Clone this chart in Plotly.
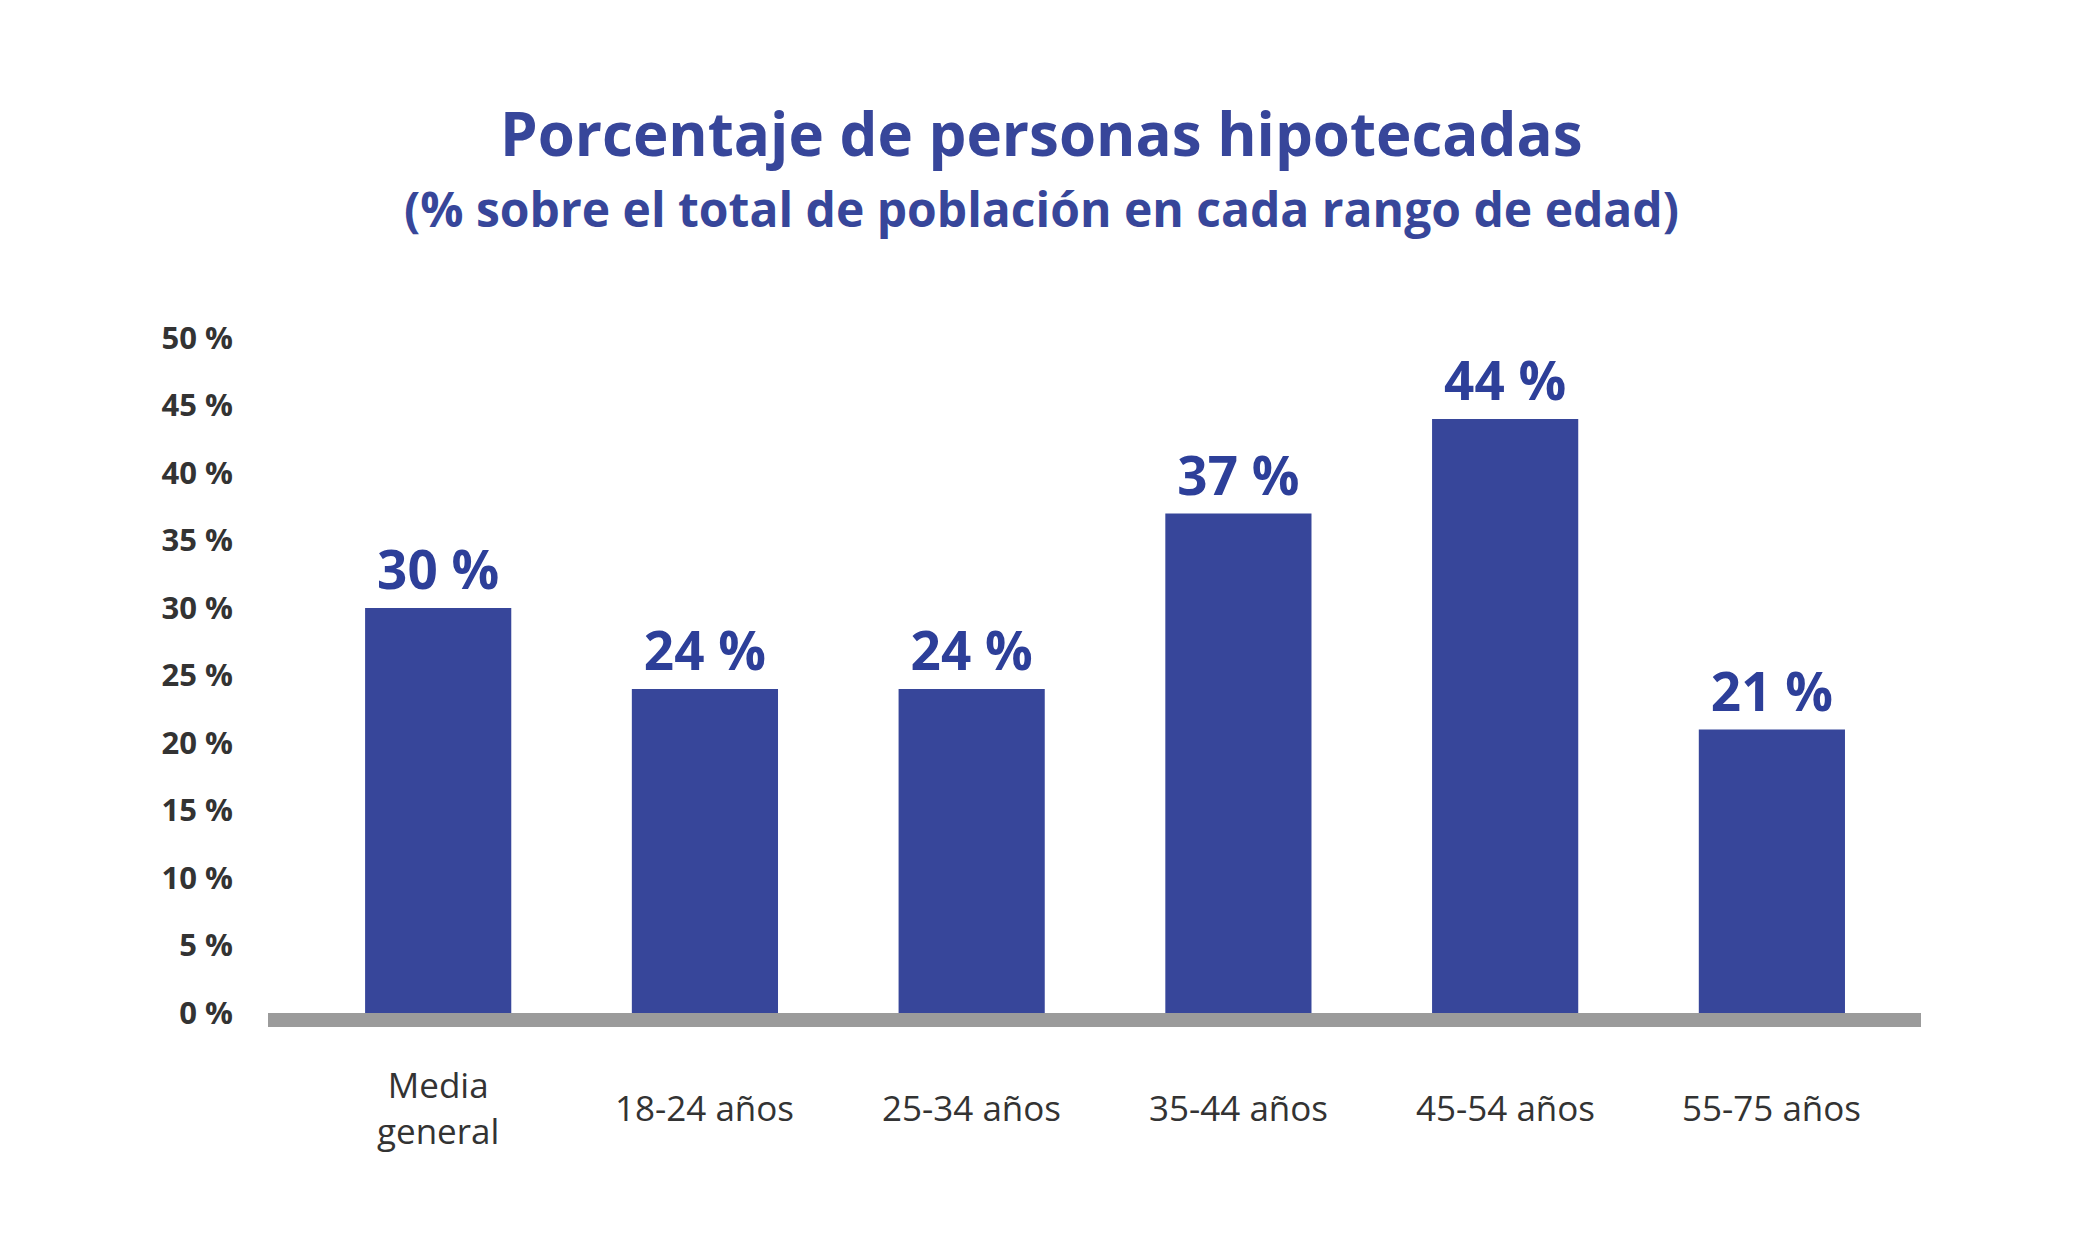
import plotly.graph_objects as go

categories = ["Media general", "18-24 años", "25-34 años", "35-44 años", "45-54 años", "55-75 años"]
values = [30, 24, 24, 37, 44, 21]
y_ticks = [0, 5, 10, 15, 20, 25, 30, 35, 40, 45, 50]
y_ticklabels = [f"{v} %" for v in y_ticks]
title = "Porcentaje de personas hipotecadas"
subtitle = "(% sobre el total de población en cada rango de edad)"
cat_labels = ["Media<br>general", "18-24 años", "25-34 años", "35-44 años", "45-54 años", "55-75 años"]

BAR = "#37469a"
LBL = "#2d3f99"
FONT = "Open Sans"

fig = go.Figure()
fig.add_trace(go.Bar(
    x=categories, y=values,
    marker=dict(color=BAR, line=dict(width=0)),
    text=[f"{v} %" for v in values],
    textposition="outside",
    textfont=dict(family=FONT, size=53, color=LBL, weight=700),
    cliponaxis=False,
    hoverinfo="skip",
))

fig.add_shape(type="rect", xref="paper", yref="y", x0=0, x1=1, y0=-1.04, y1=0,
              fillcolor="#9b9b9b", line=dict(width=0), layer="above")

for c, lab in zip(categories, cat_labels):
    fig.add_annotation(x=c, xref="x", y=-0.093, yref="paper", text=lab, showarrow=False,
                       yanchor="middle", xanchor="center",
                       font=dict(family=FONT, size=35, color="#333333"))

fig.add_annotation(x=0.468, xref="paper", y=1.244, yref="paper", text=title, showarrow=False,
                   yanchor="middle", xanchor="center",
                   font=dict(family=FONT, size=60, color=BAR, weight=700))
fig.add_annotation(x=0.468, xref="paper", y=1.14, yref="paper", text=subtitle, showarrow=False,
                   yanchor="middle", xanchor="center",
                   font=dict(family=FONT, size=48, color=BAR, weight=700))

fig.update_layout(
    width=2083, height=1250,
    margin=dict(l=260, r=170, t=303, b=218),
    paper_bgcolor="white", plot_bgcolor="white",
    showlegend=False,
    bargap=0.452,
    font=dict(family=FONT),
    xaxis=dict(range=[-0.638, 5.559], showticklabels=False, showgrid=False, zeroline=False,
               showline=False, ticks=""),
    yaxis=dict(range=[-2, 52], tickvals=y_ticks, ticktext=y_ticklabels, showgrid=False,
               zeroline=False, showline=False, ticks="", ticklabelstandoff=34,
               tickfont=dict(family=FONT, size=31, color="#333333", weight=700)),
)

fig.write_html("out.html")
